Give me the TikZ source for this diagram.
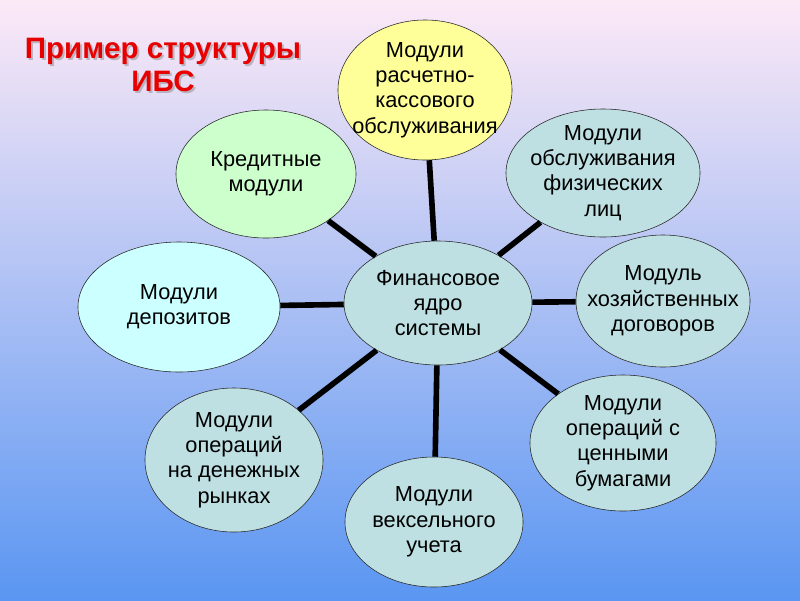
\documentclass[tikz,border=0pt]{standalone}
\usepackage{fontspec}
\setmainfont{Liberation Sans}
\usetikzlibrary{shapes.geometric}

\definecolor{bgtop}{HTML}{FCE9F6}
\definecolor{bgmid}{HTML}{B0CAF2}
\definecolor{bgbot}{HTML}{5A96F2}
\definecolor{modteal}{HTML}{BEE0E2}
\definecolor{modyellow}{HTML}{FFFF99}
\definecolor{modgreen}{HTML}{CCFFCC}
\definecolor{modcyan}{HTML}{CCFFFF}
\definecolor{titlered}{HTML}{E80000}

\begin{document}
\begin{tikzpicture}[x=0.025cm, y=-0.025cm,
    module/.style 2 args={ellipse, draw=black!85, thin, fill=modteal,
        inner sep=-1cm, align=center, minimum width=#1cm, minimum height=#2cm,
        font=\fontsize{15.5}{18}\selectfont},
    link/.style={line width=4pt, black},
    heading/.style={align=center, font=\fontsize{21}{24}\selectfont\bfseries}]

% background
\shade[top color=bgtop, middle color=bgmid, bottom color=bgbot] (0,0) rectangle (800,600);

% title
\node[heading, text=black!50, opacity=0.45] (titleshadow) at (165,67) {Пример структуры\\ИБС};
\node[heading, text=titlered] (title) at (163,65) {Пример структуры\\ИБС};

% modules
\node[module={4.7}{3.1}] (core) at (438,303) {Финансовое\\ядро\\системы};
\node[module={4.35}{3.5}, fill=modyellow] (kassa) at (425,90) {Модули\\расчетно-\\кассового\\обслуживания};
\node[module={4.5}{3.2}, fill=modgreen] (credit) at (266,174) {Кредитные\\модули};
\node[module={4.85}{3.2}] (fizlic) at (603,173) {Модули\\обслуживания\\физических\\лиц};
\node[module={4.35}{3.3}] (dogovor) at (663,301) {Модуль\\хозяйственных\\договоров};
\node[module={5.05}{3.25}, fill=modcyan] (deposit) at (179,307) {Модули\\депозитов};
\node[module={4.65}{3.4}] (papers) at (623,443) {Модули\\операций с\\ценными\\бумагами};
\node[module={4.45}{3.25}] (veksel) at (434,522) {Модули\\вексельного\\учета};
\node[module={4.45}{3.6}] (money) at (234,460) {Модули\\операций\\на денежных\\рынках};

% links
\foreach \m in {kassa, credit, fizlic, dogovor, deposit, papers, veksel, money}
    \draw[link] (core) -- (\m);

\end{tikzpicture}
\end{document}
